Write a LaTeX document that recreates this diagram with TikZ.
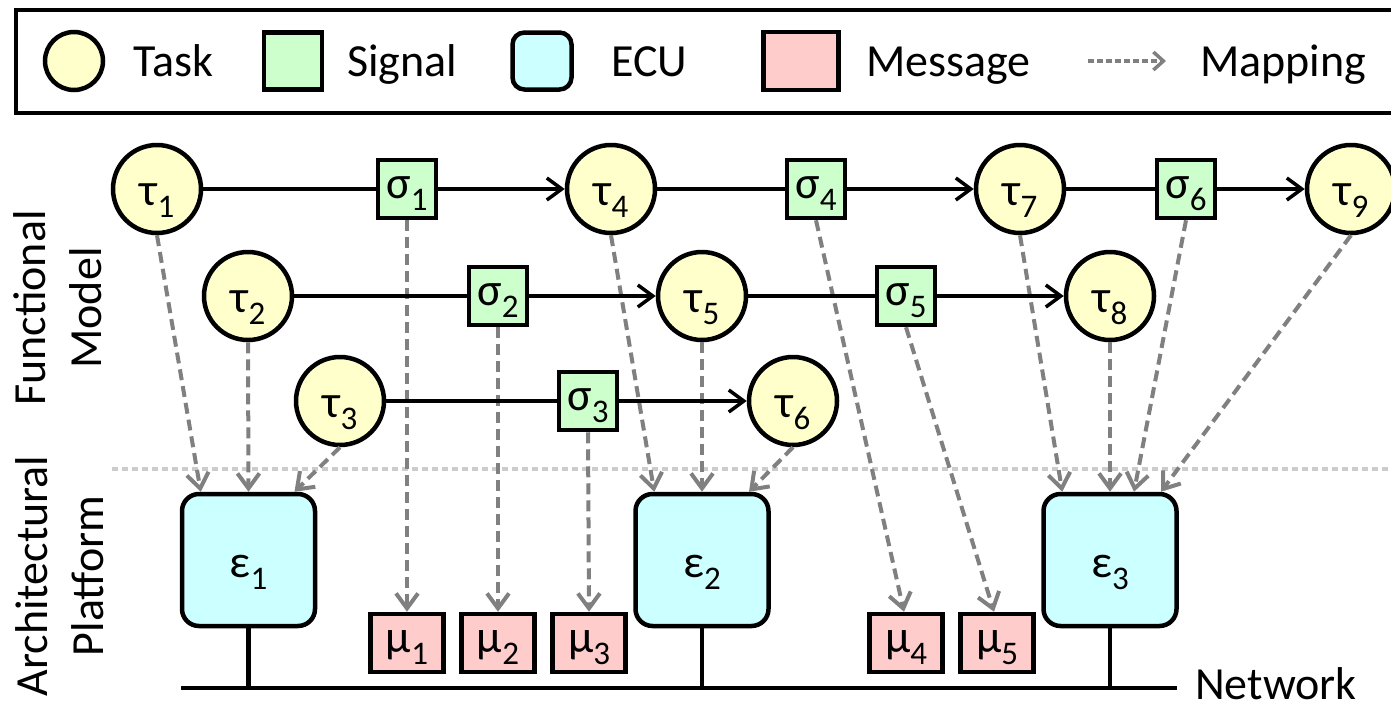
\documentclass[tikz,border=0pt]{standalone}
\usepackage{fontspec}
\setmainfont{Carlito}
\usetikzlibrary{arrows.meta,calc}
\definecolor{taskfill}{HTML}{FFFFCC}
\definecolor{sigfill}{HTML}{CCFFCC}
\definecolor{ecufill}{HTML}{CCFFFF}
\definecolor{msgfill}{HTML}{FFCCCC}
\definecolor{mapgray}{HTML}{808080}
\definecolor{sepgray}{HTML}{CCCCCC}
% symbol with a lowered, smaller index
\newcommand\idx[2]{#1\raisebox{-12pt}{\fontsize{33}{33}\selectfont #2}}
\begin{document}
\begin{tikzpicture}[x=1pt,y=-1pt,
  every node/.style={font=\fontsize{46}{56}\selectfont, inner sep=0pt},
  task/.style={circle, draw, line width=4.5pt, fill=taskfill, minimum size=88pt,
    text height=40pt, text depth=8pt},
  signal/.style={rectangle, draw, line width=4.5pt, fill=sigfill,
    minimum width=58pt, minimum height=58pt, text height=30pt, text depth=12pt},
  message/.style={rectangle, draw, line width=4.5pt, fill=msgfill,
    minimum width=73pt, minimum height=58pt, text height=30pt, text depth=12pt},
  ecu/.style={rectangle, rounded corners=17pt, draw, line width=4.5pt, fill=ecufill,
    minimum width=133pt, minimum height=132pt, text height=42pt, text depth=8pt},
  link/.style={line width=3.5pt},
  flow/.style={line width=3.5pt, -{Straight Barb[length=15pt,width=22pt]}},
  map/.style={draw=mapgray, line width=4pt, dash pattern=on 11pt off 6pt,
    -{Straight Barb[length=15pt,width=22pt]}},
  bus/.style={line width=4.5pt},
]
\useasboundingbox (0,0) rectangle (1391,707);

% ---- legend ----
\draw[line width=4.5pt] (16,10) rectangle (1405,113);
\node[task, minimum size=58pt] (lgtask) at (74,61) {};
\node[anchor=base west] (lgtasktxt) at (133,76) {Task};
\node[signal, minimum width=58pt, minimum height=57pt] (lgsig) at (293,61) {};
\node[anchor=base west] (lgsigtxt) at (347,76) {Signal};
\node[ecu, minimum width=59pt, minimum height=57pt, rounded corners=12pt] (lgecu) at (542,61) {};
\node[anchor=base west] (lgecutxt) at (611,76) {ECU};
\node[message, minimum width=75pt, minimum height=58pt] (lgmsg) at (801,61) {};
\node[anchor=base west] (lgmsgtxt) at (866,76) {Message};
\coordinate (lgmapA) at (1088,61);
\coordinate (lgmapB) at (1166,61);
\draw[map, line width=3.5pt, dash pattern=on 6pt off 3pt,
  -{Straight Barb[length=10pt,width=18pt]}] (lgmapA) -- (lgmapB);
\node[anchor=base west] (lgmaptxt) at (1200,76) {Mapping};

% ---- side labels ----
\node[rotate=90, anchor=base] (fm1) at (45,308) {Functional};
\node[rotate=90, anchor=base] (fm2) at (101,308) {Model};
\node[rotate=90, anchor=base] (ap1) at (47,576) {Architectural};
\node[rotate=90, anchor=base] (ap2) at (103,576) {Platform};

% ---- separator between the two layers ----
\coordinate (sepL) at (112,469);
\coordinate (sepR) at (1391,469);
\draw[sepgray, line width=3.5pt, dash pattern=on 6pt off 4pt] (sepL) -- (sepR);

% ---- functional model ----
\node[task]   (t1) at (157,189) {\idx{τ}{1}};
\node[signal] (s1) at (407,189) {\idx{σ}{1}};
\node[task]   (t4) at (611,189) {\idx{τ}{4}};
\node[signal] (s4) at (816,189) {\idx{σ}{4}};
\node[task]   (t7) at (1020,189) {\idx{τ}{7}};
\node[signal] (s6) at (1186,189) {\idx{σ}{6}};
\node[task]   (t9) at (1351,189) {\idx{τ}{9}};

\node[task]   (t2) at (248,296) {\idx{τ}{2}};
\node[signal] (s2) at (498,296) {\idx{σ}{2}};
\node[task]   (t5) at (702,296) {\idx{τ}{5}};
\node[signal] (s5) at (906,296) {\idx{σ}{5}};
\node[task]   (t8) at (1110,296) {\idx{τ}{8}};

\node[task]   (t3) at (340,401) {\idx{τ}{3}};
\node[signal] (s3) at (588,401) {\idx{σ}{3}};
\node[task]   (t6) at (793,401) {\idx{τ}{6}};

% ---- architectural platform ----
\node[ecu] (e1) at (248.5,560) {\idx{ε}{1}};
\node[ecu] (e2) at (702,560) {\idx{ε}{2}};
\node[ecu] (e3) at (1110,560) {\idx{ε}{3}};

\node[message] (m1) at (407,643) {\idx{μ}{1}};
\node[message] (m2) at (498,643) {\idx{μ}{2}};
\node[message] (m3) at (589,643) {\idx{μ}{3}};
\node[message] (m4) at (906,643) {\idx{μ}{4}};
\node[message] (m5) at (997,643) {\idx{μ}{5}};

\coordinate (netL) at (181,688);
\coordinate (netR) at (1177,688);
\draw[bus] (netL) -- (netR);
\draw[bus] (e1.south) -- (e1.south |- netL);
\draw[bus] (e2.south) -- (e2.south |- netL);
\draw[bus] (e3.south) -- (e3.south |- netL);
\node[anchor=base west] (netlabel) at (1195,699) {Network};

% ---- mappings ----
\draw[map] (t1.south) -- ($(e1.north west)+(21,0)$);
\draw[map] (t2.south) -- (e1.north);
\draw[map] (t3.south) -- ($(e1.north)+(46,0)$);
\draw[map] (t4.south) -- ($(e2.north west)+(21,0)$);
\draw[map] (t5.south) -- (e2.north);
\draw[map] (t6.south) -- ($(e2.north)+(47,0)$);
\draw[map] (t7.south) -- ($(e3.north west)+(21,0)$);
\draw[map] (t8.south) -- (e3.north);
\draw[map] (s6.south) -- ($(e3.north)+(24,0)$);
\draw[map] (t9.south) -- ($(e3.north)+(51,0)$);
\draw[map] (s1.south) -- (m1.north);
\draw[map] (s2.south) -- (m2.north);
\draw[map] (s3.south) -- (m3.north);
\draw[map] (s4.south) -- ($(m4.north)+(-2,0)$);
\draw[map] (s5.south) -- ($(m5.north)+(-3,0)$);

% ---- signal flow ----
\draw[link] (t1) -- (s1);
\draw[flow] (s1) -- (t4);
\draw[link] (t4) -- (s4);
\draw[flow] (s4) -- (t7);
\draw[link] (t7) -- (s6);
\draw[flow] (s6) -- (t9);
\draw[link] (t2) -- (s2);
\draw[flow] (s2) -- (t5);
\draw[link] (t5) -- (s5);
\draw[flow] (s5) -- (t8);
\draw[link] (t3) -- (s3);
\draw[flow] (s3) -- (t6);
\end{tikzpicture}
\end{document}
